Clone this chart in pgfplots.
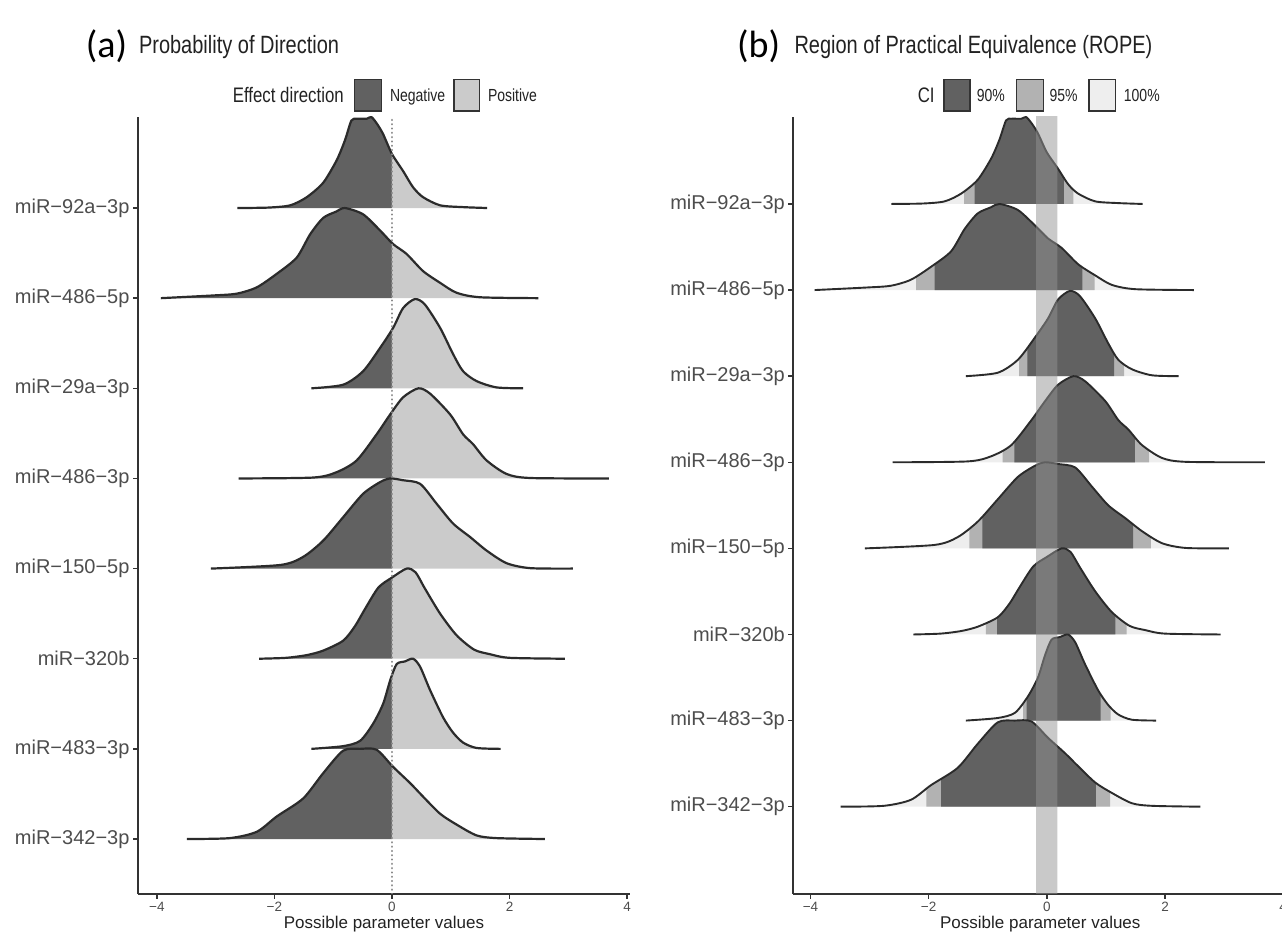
\documentclass[border=0pt]{standalone}
\usepackage{pgfplots}
\pgfplotsset{compat=1.18}
\usepackage{pgfplotstable}
\usepgfplotslibrary{fillbetween}
\usepackage{fontspec}
\setmainfont{Liberation Sans}
\newfontfamily\nar[FakeStretch=0.8]{Liberation Sans}
\newfontfamily\calib{Carlito}
\definecolor{negc}{HTML}{616161}
\definecolor{posc}{HTML}{CBCBCB}
\definecolor{cnf}{HTML}{B2B2B2}
\definecolor{cfull}{HTML}{EEEEEE}
\definecolor{linec}{HTML}{2B2B2B}
\definecolor{ropec}{HTML}{939393}
\definecolor{dotc}{HTML}{8A8A8A}
\definecolor{axc}{HTML}{333333}
\definecolor{labc}{HTML}{4D4D4D}
\definecolor{titc}{HTML}{222222}

% ridge densities: x, height (in category units)
\pgfplotstableread{
x h
-2.63 0
-2.10 0.005
-1.73 0.03
-1.45 0.12
-1.17 0.28
-0.94 0.53
-0.80 0.75
-0.69 0.97
-0.60 0.99
-0.43 0.99
-0.35 1.01
-0.25 0.93
-0.15 0.82
0.00 0.60
0.19 0.41
0.36 0.23
0.53 0.12
0.82 0.03
1.21 0.01
1.62 0
}\rA
\pgfplotstableread{
x h
-3.93 0
-3.04 0.03
-2.64 0.05
-2.30 0.12
-1.96 0.27
-1.62 0.45
-1.39 0.71
-1.17 0.89
-0.95 0.96
-0.80 1.00
-0.49 0.93
-0.20 0.75
0.02 0.60
0.25 0.49
0.53 0.30
0.82 0.17
1.10 0.06
1.50 0.01
2.49 0
}\rB
\pgfplotstableread{
x h
-1.37 0
-0.83 0.04
-0.49 0.19
-0.20 0.45
0.02 0.67
0.19 0.89
0.39 0.99
0.56 0.93
0.82 0.67
1.04 0.38
1.21 0.19
1.44 0.08
1.78 0.01
2.23 0
}\rC
\pgfplotstableread{
x h
-2.61 0
-1.34 0.01
-0.94 0.07
-0.60 0.20
-0.26 0.49
-0.03 0.71
0.19 0.90
0.45 1.00
0.65 0.94
0.99 0.71
1.21 0.49
1.38 0.38
1.61 0.20
1.95 0.05
2.35 0.005
3.69 0
}\rD
\pgfplotstableread{
x h
-3.08 0
-1.90 0.04
-1.51 0.13
-1.17 0.31
-0.83 0.57
-0.49 0.83
-0.20 0.96
-0.03 1.00
0.19 0.98
0.48 0.94
0.76 0.72
1.04 0.50
1.33 0.35
1.61 0.20
1.95 0.06
2.35 0.005
3.08 0
}\rE
\pgfplotstableread{
x h
-2.26 0
-1.80 0.01
-1.45 0.04
-1.17 0.09
-0.83 0.20
-0.63 0.36
-0.46 0.55
-0.23 0.79
0.00 0.90
0.25 1.00
0.40 0.96
0.56 0.78
0.82 0.50
1.10 0.26
1.40 0.10
1.67 0.05
2.00 0.01
2.94 0
}\rF
\pgfplotstableread{
x h
-1.37 0
-0.83 0.03
-0.54 0.09
-0.32 0.28
-0.15 0.50
-0.03 0.76
0.08 0.94
0.22 0.97
0.36 1.00
0.48 0.91
0.65 0.65
0.87 0.35
1.04 0.18
1.21 0.07
1.44 0.01
1.85 0
}\rG
\pgfplotstableread{
x h
-3.49 0
-2.76 0.01
-2.30 0.08
-1.96 0.25
-1.51 0.45
-1.17 0.73
-0.83 0.98
-0.54 1.00
-0.26 0.99
0.02 0.80
0.31 0.62
0.53 0.47
0.82 0.28
1.10 0.16
1.44 0.04
1.78 0.01
2.60 0
}\rH

% #1 table, #2 level, #3 x0, #4 xn, #5 name
\newcommand\ridgeL[5]{%
 \addplot[draw=none, smooth, tension=0.45, name path=#5c] table[x=x, y expr=\thisrow{h}+#2]{#1};
 \addplot[draw=none, name path=#5b] coordinates {(#3,#2) (#4,#2)};
 \addplot[fill=negc, draw=none] fill between[of=#5c and #5b, soft clip={domain=-6:0}];
 \addplot[fill=posc, draw=none] fill between[of=#5c and #5b, soft clip={domain=0:6}];
 \addplot[draw=linec, line width=2.2bp, smooth, tension=0.45, line join=round] table[x=x, y expr=\thisrow{h}+#2]{#1};
}
% #6 lo95 #7 hi95 #8 lo90 #9 hi90
\newcommand\ridgeR[9]{%
 \addplot[draw=none, smooth, tension=0.45, name path=#5c] table[x=x, y expr=\thisrow{h}+#2]{#1};
 \addplot[draw=none, name path=#5b] coordinates {(#3,#2) (#4,#2)};
 \addplot[fill=cfull, draw=none] fill between[of=#5c and #5b];
 \addplot[fill=cnf, draw=none] fill between[of=#5c and #5b, soft clip={domain=#6:#7}];
 \addplot[fill=negc, draw=none] fill between[of=#5c and #5b, soft clip={domain=#8:#9}];
 \addplot[draw=linec, line width=1.9bp, smooth, tension=0.45, line join=round] table[x=x, y expr=\thisrow{h}+#2]{#1};
}

\pgfplotsset{
 ridgeaxis/.style={
  scale only axis,
  anchor=south west,
  axis lines=left,
  axis line style={-, line width=2bp, color=axc},
  tick align=outside,
  major tick length=5bp,
  tick style={line width=1.5bp, color=axc},
  xtick={-4,-2,0,2,4},
  xticklabels={−4,−2,0,2,4},
  ytick={1,2,3,4,5,6,7,8},
  yticklabels={miR−342−3p,miR−483−3p,miR−320b,miR−150−5p,miR−486−3p,miR−29a−3p,miR−486−5p,miR−92a−3p},
  yticklabel style={font=\fontsize{20bp}{24bp}\selectfont, text=labc},
  xticklabel style={font=\fontsize{13.5bp}{16bp}\selectfont, text=labc},
  xlabel={Possible parameter values},
  xlabel style={font=\fontsize{17bp}{20bp}\selectfont, text=titc, at={(axis description cs:0.5,0)}, anchor=base, yshift=-35bp},
 }
}

\begin{document}
\begin{tikzpicture}[x=1bp,y=1bp]
% ---------------- panel (a)
\begin{axis}[ridgeaxis,
  width=492bp, height=777bp, at={(138bp,39bp)},
  xmin=-4.32, xmax=4.05, ymin=0.39, ymax=9.01]
\ridgeL{\rA}{8}{-2.63}{1.62}{LA}
\ridgeL{\rB}{7}{-3.93}{2.49}{LB}
\ridgeL{\rC}{6}{-1.37}{2.23}{LC}
\ridgeL{\rD}{5}{-2.61}{3.69}{LD}
\ridgeL{\rE}{4}{-3.08}{3.08}{LE}
\ridgeL{\rF}{3}{-2.26}{2.94}{LF}
\ridgeL{\rG}{2}{-1.37}{1.85}{LG}
\ridgeL{\rH}{1}{-3.49}{2.60}{LH}
\addplot[draw=dotc, line width=2.3bp, line cap=round, dash pattern=on 0.1bp off 4.2bp] coordinates {(0,0.39) (0,9.01)};
\end{axis}
% ---------------- panel (b)
\begin{axis}[ridgeaxis,
  width=494bp, height=777bp, at={(793.3bp,39bp)},
  xmin=-4.29, xmax=4.07, ymin=-0.014, ymax=9.01]
\ridgeR{\rA}{8}{-2.63}{1.62}{RA}{-1.40}{0.45}{-1.22}{0.29}
\ridgeR{\rB}{7}{-3.93}{2.49}{RB}{-2.21}{0.81}{-1.90}{0.60}
\ridgeR{\rC}{6}{-1.37}{2.23}{RC}{-0.47}{1.31}{-0.33}{1.14}
\ridgeR{\rD}{5}{-2.61}{3.69}{RD}{-0.75}{1.73}{-0.55}{1.49}
\ridgeR{\rE}{4}{-3.08}{3.08}{RE}{-1.31}{1.76}{-1.09}{1.46}
\ridgeR{\rF}{3}{-2.26}{2.94}{RF}{-1.03}{1.35}{-0.84}{1.16}
\ridgeR{\rG}{2}{-1.37}{1.85}{RG}{-0.40}{1.08}{-0.34}{0.91}
\ridgeR{\rH}{1}{-3.49}{2.60}{RH}{-2.04}{1.07}{-1.79}{0.83}
\addplot[fill=ropec, fill opacity=0.5, draw=none] coordinates {(-0.18,-0.2) (0.18,-0.2) (0.18,9.2) (-0.18,9.2) (-0.18,-0.2)};
\end{axis}
% ---------------- titles and legends
\node[anchor=base west, inner sep=0pt, font=\calib\fontsize{38bp}{44bp}\selectfont] at (85.7,875) {(a)};
\node[anchor=base west, inner sep=0pt, text=titc, font=\nar\fontsize{25bp}{30bp}\selectfont] at (138.8,879.9) {Probability of Direction};
\node[anchor=base west, inner sep=0pt, text=titc, font=\nar\fontsize{21bp}{25bp}\selectfont] at (232.7,830.1) {Effect direction};
\draw[axc, line width=1.5bp, fill=negc] (354.3,822) rectangle (381.6,853.4);
\node[anchor=base west, inner sep=0pt, text=titc, font=\nar\fontsize{17.5bp}{21bp}\selectfont] at (389.8,831.5) {Negative};
\draw[axc, line width=1.5bp, fill=posc] (453.9,822) rectangle (479.6,853.4);
\node[anchor=base west, inner sep=0pt, text=titc, font=\nar\fontsize{17.5bp}{21bp}\selectfont] at (487.8,831.5) {Positive};

\node[anchor=base west, inner sep=0pt, font=\calib\fontsize{38bp}{44bp}\selectfont] at (737,875) {(b)};
\node[anchor=base west, inner sep=0pt, text=titc, font=\nar\fontsize{25bp}{30bp}\selectfont] at (794.3,879.9) {Region of Practical Equivalence (ROPE)};
\node[anchor=base west, inner sep=0pt, text=titc, font=\nar\fontsize{21bp}{25bp}\selectfont] at (917.6,830.1) {CI};
\draw[axc, line width=1.5bp, fill=negc] (944,822) rectangle (969.8,853.4);
\node[anchor=base west, inner sep=0pt, text=titc, font=\nar\fontsize{17.5bp}{21bp}\selectfont] at (976.7,831.5) {90\%};
\draw[axc, line width=1.5bp, fill=cnf] (1016.3,822) rectangle (1043.3,853.4);
\node[anchor=base west, inner sep=0pt, text=titc, font=\nar\fontsize{17.5bp}{21bp}\selectfont] at (1049.4,831.5) {95\%};
\draw[axc, line width=1.5bp, fill=cfull] (1089,822) rectangle (1115.5,853.4);
\node[anchor=base west, inner sep=0pt, text=titc, font=\nar\fontsize{17.5bp}{21bp}\selectfont] at (1123.7,831.5) {100\%};

\pgfresetboundingbox
\path[use as bounding box] (0,0) rectangle (1282,933);
\end{tikzpicture}
\end{document}
